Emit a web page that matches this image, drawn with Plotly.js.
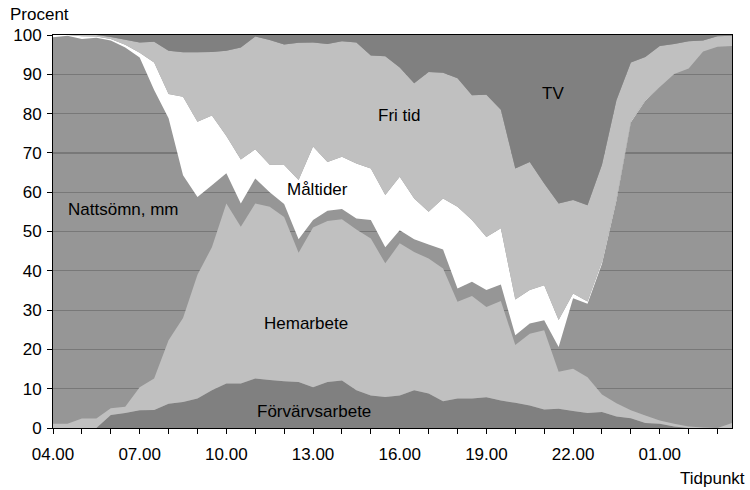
<!DOCTYPE html>
<html>
<head>
<meta charset="utf-8">
<script src="https://cdn.plot.ly/plotly-3.0.1.min.js"></script>
<style>html,body{margin:0;padding:0;background:#fff;}</style>
</head>
<body>
<div id="chart" style="width:750px;height:490px;"></div>
<script>
// Half-hour time slots, 04.00 to 03.30
const slots = ["04.00","04.30","05.00","05.30","06.00","06.30","07.00","07.30","08.00","08.30","09.00","09.30",
  "10.00","10.30","11.00","11.30","12.00","12.30","13.00","13.30","14.00","14.30","15.00","15.30",
  "16.00","16.30","17.00","17.30","18.00","18.30","19.00","19.30","20.00","20.30","21.00","21.30",
  "22.00","22.30","23.00","23.30","00.00","00.30","01.00","01.30","02.00","02.30","03.00","03.30"];

// Hourly ticks and labelled ticks
const hourTicks = ["04.00","05.00","06.00","07.00","08.00","09.00","10.00","11.00","12.00","13.00","14.00","15.00",
  "16.00","17.00","18.00","19.00","20.00","21.00","22.00","23.00","00.00","01.00","02.00","03.00"];
const tickLabels = ["04.00","","","07.00","","","10.00","","","13.00","","","16.00","","","19.00","","","22.00","","","01.00","",""];

// Percent of population per activity (stacked bottom to top)
const forvarvsarbete = [0,0,0,0,3.3,3.8,4.5,4.6,6.2,6.6,7.5,9.6,11.3,11.3,12.6,12.2,11.9,11.7,10.4,11.7,12.1,9.6,8.3,7.9,
  8.3,9.6,8.8,6.8,7.5,7.5,7.8,7.0,6.4,5.7,4.7,4.9,4.3,3.8,4.1,2.9,2.5,1.3,1.1,0.4,0,0,0,0];
const hemarbete = [1.1,1.1,2.4,2.4,1.7,1.6,5.9,8.0,16.1,21.4,31.5,36.4,45.8,39.9,44.5,44.1,41.8,32.9,40.6,41.0,41.0,40.9,39.9,34.0,
  38.7,35.2,34.3,33.8,24.6,26.1,23.0,25.3,14.7,18.3,20.2,9.4,10.8,9.1,4.4,3.4,2.0,1.9,0.8,0.7,0.4,0.1,0,1.3];
const nattsomn = [98.3,98.7,96.6,96.9,93.6,91.4,83.9,73.4,56.5,36.3,19.8,15.8,7.7,5.9,6.4,3.7,3.3,3.4,1.9,2.6,2.6,2.8,4.7,4.1,
  3.3,3.2,3.6,4.8,3.4,3.6,4.3,4.2,2.5,2.6,2.5,6.3,17.9,18.7,33.3,51.6,73.3,80.1,84.9,89.0,91.1,95.7,97.0,95.9];
const maltider = [0.6,0.2,0.7,0.3,0.4,0.7,1.2,7.0,6.2,20.0,19.1,17.7,9.5,11.2,7.4,7.0,9.9,15.1,18.7,12.4,13.3,14.0,13.1,13.3,
  13.6,10.4,8.3,13.0,20.8,15.7,13.5,14.3,9.1,8.5,8.9,6.9,1.2,0.6,0.5,0.4,0.2,0.1,0,0,0,0,0,0];
const fritid = [0,0,0.3,0.4,0.5,1.3,2.6,5.3,11.0,11.3,17.7,16.2,21.7,28.5,28.7,31.7,30.7,34.9,26.5,30.0,29.4,30.8,28.8,35.3,
  27.8,29.3,35.6,32.0,32.7,31.8,36.2,30.2,33.3,32.6,25.9,29.6,23.8,24.5,24.7,25.1,15.0,11.0,10.4,7.6,6.9,2.8,2.7,2.6];
const tv = [0,0,0,0,0.5,1.2,1.9,1.7,4.0,4.4,4.4,4.3,4.0,3.2,0.4,1.3,2.4,2.0,1.9,2.3,1.6,1.9,5.2,5.4,
  8.3,12.3,9.4,9.6,11.0,15.3,15.2,19.0,34.0,32.3,37.8,42.9,42.0,43.3,33.0,16.6,7.0,5.6,2.8,2.3,1.6,1.4,0.3,0.2];

const seriesNames = ["Förvärvsarbete","Hemarbete","Nattsömn, mm","Måltider","Fri tid","TV"];
const seriesData = [forvarvsarbete, hemarbete, nattsomn, maltider, fritid, tv];
const fills = ["#808080","#c0c0c0","rgba(150,150,150,0)","#ffffff","#c0c0c0","#808080"];

const traces = seriesData.map((d, k) => ({
  type: "scatter",
  x: slots,
  y: d,
  name: seriesNames[k],
  stackgroup: "one",
  mode: "none",
  fillcolor: fills[k],
  line: {width: 0},
  hoverinfo: "skip"
}));

// In-chart series labels (axis units)
const labelText = ["Nattsömn, mm","Fri tid","TV","Måltider","Hemarbete","Förvärvsarbete"];
const labelX = [4.9, 24.0, 34.6, 18.3, 17.5, 18.1];
const labelY = [55.6, 79.4, 85.0, 60.7, 26.7, 4.1];

const FONT = "Liberation Sans, Arial, sans-serif";
const annotations = labelText.map((t, k) => ({
  text: t, x: labelX[k], y: labelY[k], xref: "x", yref: "y",
  showarrow: false, font: {family: FONT, size: 17, color: "#000"}
}));
annotations.push({text: "Procent", xref: "paper", yref: "paper", x: -0.066, y: 1.0, yshift: 21,
  xanchor: "left", yanchor: "middle", showarrow: false, font: {family: FONT, size: 17, color: "#000"}});
annotations.push({text: "Tidpunkt", xref: "paper", yref: "paper", x: 1.022, y: 0, yshift: -50,
  xanchor: "right", yanchor: "middle", showarrow: false, font: {family: FONT, size: 17, color: "#000"}});

const layout = {
  width: 750, height: 490,
  margin: {l: 53, r: 18, t: 35, b: 62, pad: 0},
  paper_bgcolor: "#ffffff",
  plot_bgcolor: "#969696",
  showlegend: false,
  font: {family: FONT, size: 17, color: "#000"},
  xaxis: {
    type: "category",
    range: [0, 47],
    tickmode: "array",
    tickvals: hourTicks,
    ticktext: tickLabels,
    ticks: "outside", ticklen: 5, tickcolor: "#000", tickwidth: 1,
    ticklabelstandoff: 6,
    showgrid: false, zeroline: false,
    showline: true, linecolor: "#000", linewidth: 1, mirror: true,
    tickfont: {family: FONT, size: 17, color: "#000"}
  },
  yaxis: {
    range: [0, 100],
    tickmode: "linear", tick0: 0, dtick: 10,
    ticks: "outside", ticklen: 5, tickcolor: "#000", tickwidth: 1,
    ticklabelstandoff: 2,
    showgrid: true, gridcolor: "#787878", gridwidth: 1.2,
    zeroline: false,
    showline: true, linecolor: "#000", linewidth: 1, mirror: true,
    tickfont: {family: FONT, size: 17, color: "#000"}
  },
  annotations: annotations
};

Plotly.newPlot("chart", traces, layout, {staticPlot: true, displayModeBar: false});
</script>
</body>
</html>
